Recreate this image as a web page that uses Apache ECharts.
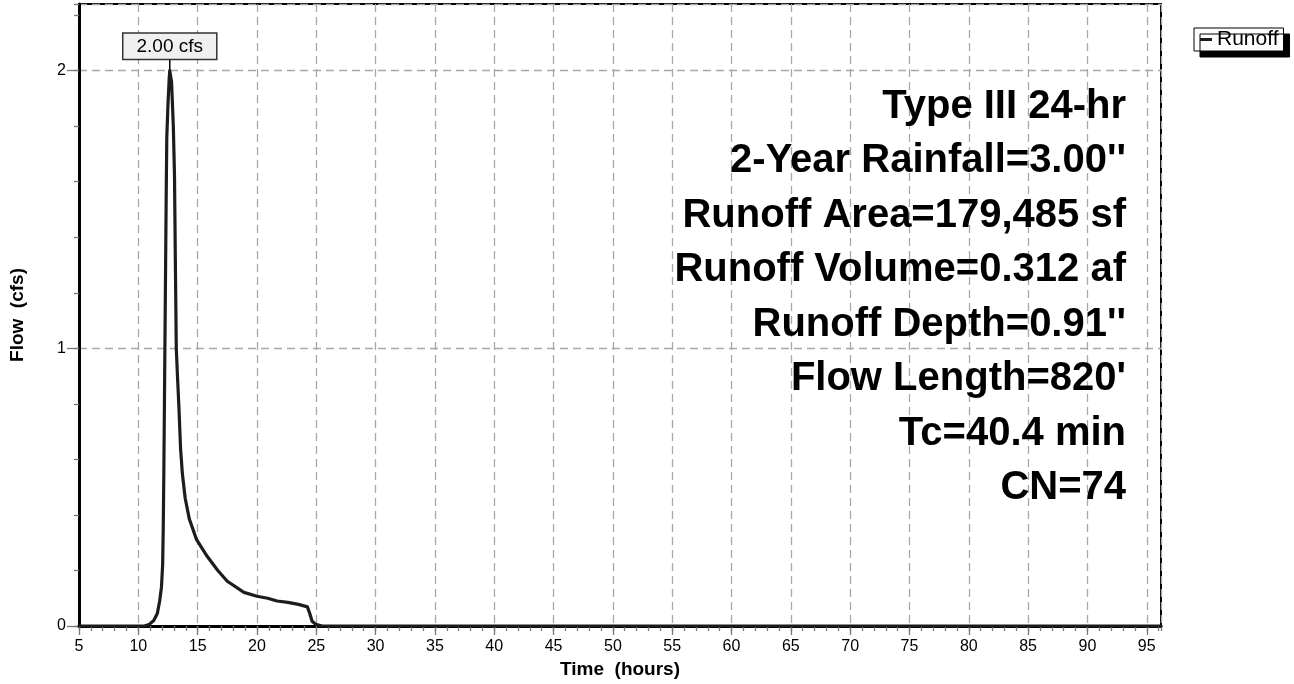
<!DOCTYPE html>
<html>
<head>
<meta charset="utf-8">
<script src="https://cdn.jsdelivr.net/npm/echarts@6/dist/echarts.min.js"></script>
<style>
html,body{margin:0;padding:0;background:#fff;}
#chart{width:1294px;height:684px;}
</style>
</head>
<body>
<div id="chart"></div>
<script>
// ---- data ----
const timeHours = [5, 10.5, 10.9, 11.3, 11.6, 11.8, 11.95, 12.05, 12.1, 12.15, 12.2, 12.25, 12.3, 12.35, 12.4, 12.5, 12.6, 12.65,
  12.8, 12.95, 13.05, 13.12, 13.2, 13.3, 13.42, 13.56, 13.71, 13.95, 14.3, 14.9, 15.8, 16.7, 17.5, 18.9, 20.0, 20.9, 21.7, 22.6,
  23.5, 24.25, 24.45, 24.65, 24.95, 25.5, 96.2];
const flowCfs = [0, 0, 0.005, 0.02, 0.045, 0.09, 0.14, 0.22, 0.35, 0.55, 0.8, 1.05, 1.3, 1.55, 1.76, 1.88, 1.97, 2.00,
  1.96, 1.8, 1.62, 1.32, 1.0, 0.9, 0.79, 0.64, 0.55, 0.46, 0.385, 0.312, 0.251, 0.2, 0.161, 0.121, 0.107, 0.1, 0.09, 0.085,
  0.078, 0.069, 0.045, 0.017, 0.006, 0, 0];
const seriesName = 'Runoff';
const peakLabel = '2.00 cfs';
const infoLines = [
  'Type III 24-hr',
  '2-Year Rainfall=3.00\'\'',
  'Runoff Area=179,485 sf',
  'Runoff Volume=0.312 af',
  'Runoff Depth=0.91\'\'',
  'Flow Length=820\'',
  'Tc=40.4 min',
  'CN=74'
];
const xRange = [5, 96.2];
const yRange = [0, 2.24];
const xTitle = 'Time  (hours)';
const yTitle = 'Flow  (cfs)';

// ---- build ----
const pts = timeHours.map((t, i) => [t, flowCfs[i]]);
let pk = 0;
flowCfs.forEach((v, i) => { if (v > flowCfs[pk]) pk = i; });

const FONT = '"Liberation Sans", Arial, Helvetica, sans-serif';
const chart = echarts.init(document.getElementById('chart'), null, {renderer: 'canvas'});

const gridDash = {color: '#a8a8a8', width: 1.3, type: [8, 5]};

chart.setOption({
  animation: false,
  backgroundColor: '#fff',
  textStyle: {fontFamily: FONT},
  grid: {left: 78, right: 133, top: 4, bottom: 57.5, show: true, borderColor: '#000', borderWidth: 2, containLabel: false},
  legend: {
    left: 1194, top: 28,
    data: [seriesName],
    icon: 'rect', itemWidth: 12, itemHeight: 3, itemGap: 4,
    padding: [1, 5, 1, 6],
    backgroundColor: '#fff', borderColor: '#000', borderWidth: 1,
    shadowColor: '#000', shadowBlur: 0, shadowOffsetX: 6, shadowOffsetY: 6,
    textStyle: {fontSize: 21, color: '#000', fontFamily: FONT},
    selectedMode: false
  },
  xAxis: [{
    type: 'value', position: 'bottom', min: xRange[0], max: xRange[1], interval: 5,
    name: xTitle, nameLocation: 'middle', nameGap: 34,
    nameTextStyle: {fontSize: 19, fontWeight: 'bold', color: '#000', fontFamily: FONT},
    axisLine: {show: true, onZero: false, lineStyle: {color: '#000', width: 3}},
    axisTick: {show: true, length: 9, lineStyle: {color: '#777', width: 1.3}},
    axisLabel: {show: true, showMaxLabel: false, fontSize: 16, color: '#000', margin: 13, fontFamily: FONT},
    splitLine: {show: true, lineStyle: gridDash}
  }, {
    type: 'value', position: 'bottom', min: xRange[0], max: xRange[1], interval: 1,
    axisLine: {show: false},
    axisTick: {show: true, length: 5, lineStyle: {color: '#777', width: 1.3}},
    axisLabel: {show: false},
    splitLine: {show: false}
  }],
  yAxis: [{
    type: 'value', position: 'left', min: yRange[0], max: yRange[1], interval: 1,
    name: yTitle, nameLocation: 'middle', nameGap: 52, nameRotate: 90,
    nameTextStyle: {fontSize: 19, fontWeight: 'bold', color: '#000', fontFamily: FONT},
    axisLine: {show: true, onZero: false, lineStyle: {color: '#000', width: 3}},
    axisTick: {show: true, length: 12, lineStyle: {color: '#777', width: 1.3}},
    axisLabel: {show: true, showMaxLabel: false, fontSize: 16, color: '#000', margin: 13, fontFamily: FONT},
    splitLine: {show: true, lineStyle: gridDash}
  }, {
    type: 'value', position: 'left', min: yRange[0], max: yRange[1], interval: 0.2,
    axisLine: {show: false},
    axisTick: {show: true, length: 5, lineStyle: {color: '#777', width: 1.3}},
    axisLabel: {show: false},
    splitLine: {show: false}
  }],
  series: [{
    name: seriesName,
    type: 'line',
    xAxisIndex: 0, yAxisIndex: 0,
    data: pts,
    showSymbol: false,
    symbol: 'none',
    lineStyle: {color: '#1c1c1c', width: 3.2, join: 'round', cap: 'round'},
    itemStyle: {color: '#1c1c1c'},
    z: 5,
    markPoint: {
      symbol: 'rect',
      symbolSize: [1.5, 12],
      symbolOffset: [0, -6],
      itemStyle: {color: '#000'},
      label: {
        show: true, position: 'top', distance: 0,
        formatter: peakLabel,
        fontSize: 19, lineHeight: 20, color: '#000', fontFamily: FONT,
        backgroundColor: '#f0f0f0', borderColor: '#333', borderWidth: 1.5,
        padding: [3, 13, 2, 13]
      },
      data: [{coord: pts[pk]}]
    }
  }],
  graphic: [{
    type: 'text',
    x: 1126, y: 79.25,
    z: 10,
    style: {
      text: infoLines.join('\n'),
      align: 'right',
      verticalAlign: 'top',
      lineHeight: 54.5,
      font: 'bold 40px ' + FONT,
      fill: '#000'
    }
  }]
});
</script>
</body>
</html>
